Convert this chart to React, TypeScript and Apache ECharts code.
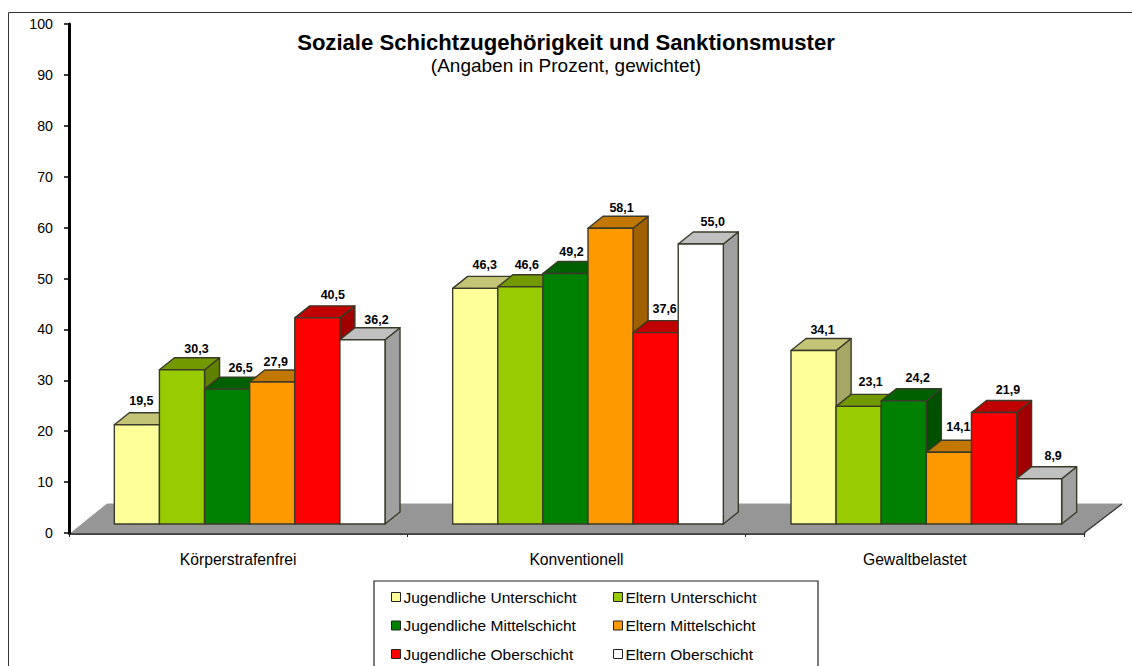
import React, { useEffect, useRef } from "react";
import * as echarts from "echarts";

const categories = ["Körperstrafenfrei", "Konventionell", "Gewaltbelastet"];
const yTicks = { min: 0, max: 100, interval: 10 };

const jugendlicheUnterschicht = [19.5, 46.3, 34.1];
const elternUnterschicht = [30.3, 46.6, 23.1];
const jugendlicheMittelschicht = [26.5, 49.2, 24.2];
const elternMittelschicht = [27.9, 58.1, 14.1];
const jugendlicheOberschicht = [40.5, 37.6, 21.9];
const elternOberschicht = [36.2, 55.0, 8.9];

const seriesNames = [
  "Jugendliche Unterschicht",
  "Eltern Unterschicht",
  "Jugendliche Mittelschicht",
  "Eltern Mittelschicht",
  "Jugendliche Oberschicht",
  "Eltern Oberschicht",
];
const seriesValues = [
  jugendlicheUnterschicht,
  elternUnterschicht,
  jugendlicheMittelschicht,
  elternMittelschicht,
  jugendlicheOberschicht,
  elternOberschicht,
];

const frontColors = ["#FFFF99", "#99CC00", "#008000", "#FF9900", "#FF0000", "#FFFFFF"];
const topColors = ["#C4C477", "#729900", "#006000", "#C17700", "#C00000", "#C0C0C0"];
const sideColors = ["#A6A665", "#5F8000", "#005000", "#A06000", "#A00000", "#A0A0A0"];

// Hand-placed value labels in the original: horizontal and vertical nudges per series and category
const labelNudgeX = [
  [4.5, 9.5, 9],
  [14.5, 6.5, 12],
  [13.5, 6, 14],
  [3.5, 11, 9.5],
  [15.5, 9, 14],
  [14, 12, 14],
];
const labelNudgeY = [
  [-24, -23, -20],
  [-21, -22, -24],
  [-21, -22, -23],
  [-20, -20, -25],
  [-23, -24, -23],
  [-20, -22, -23],
];

const FONT = '"Liberation Sans", Arial, sans-serif';
const EDGE = "#3a3a2a";
const SHIFT_X = 11.5;
const SHIFT_Y = -9;
const DEPTH_X = 15;
const DEPTH_Y = -12;
const FLOOR_X = 38;
const FLOOR_Y = -29;

function barItem(seriesIndex: number) {
  return (params: any, api: any) => {
    const cat = api.value(0);
    const val = api.value(1);
    const base = api.coord([cat, 0]);
    const top = api.coord([cat, val]);
    const band = api.size([1, 0])[0];
    const w = band / 7.5;
    const x0 = base[0] - 3 * w + seriesIndex * w + SHIFT_X;
    const x1 = x0 + w;
    const yb = base[1] + SHIFT_Y;
    const yt = top[1] + SHIFT_Y;
    const stroke = { stroke: EDGE, lineWidth: 1.4, lineJoin: "round" };
    return {
      type: "group",
      children: [
        {
          type: "polygon",
          shape: { points: [[x1, yb], [x1 + DEPTH_X, yb + DEPTH_Y], [x1 + DEPTH_X, yt + DEPTH_Y], [x1, yt]] },
          style: { fill: sideColors[seriesIndex], ...stroke },
        },
        {
          type: "polygon",
          shape: { points: [[x0, yt], [x0 + DEPTH_X, yt + DEPTH_Y], [x1 + DEPTH_X, yt + DEPTH_Y], [x1, yt]] },
          style: { fill: topColors[seriesIndex], ...stroke },
        },
        {
          type: "rect",
          shape: { x: x0, y: yt, width: w, height: yb - yt },
          style: { fill: frontColors[seriesIndex], ...stroke },
        },
      ],
    };
  };
}

function labelItem(seriesIndex: number) {
  return (params: any, api: any) => {
    const cat = api.value(0);
    const val = api.value(1);
    const top = api.coord([cat, val]);
    const band = api.size([1, 0])[0];
    const w = band / 7.5;
    const cx = top[0] - 3 * w + seriesIndex * w + SHIFT_X + w / 2;
    const cy = top[1] + SHIFT_Y;
    const i = params.dataIndex;
    return {
      type: "text",
      x: cx + labelNudgeX[seriesIndex][i],
      y: cy + labelNudgeY[seriesIndex][i],
      style: {
        text: val.toFixed(1).replace(".", ","),
        font: `bold 12.5px ${FONT}`,
        fill: "#000",
        textAlign: "center",
        textVerticalAlign: "middle",
      },
    };
  };
}

function floorItem(params: any, api: any) {
  const g = params.coordSys;
  const xl = g.x;
  const xr = g.x + g.width;
  const yb = g.y + g.height;
  return {
    type: "group",
    children: [
      {
        type: "polygon",
        shape: { points: [[xl + 2, yb], [xl + FLOOR_X, yb + FLOOR_Y], [xr + FLOOR_X, yb + FLOOR_Y], [xr, yb]] },
        style: { fill: "#969696", stroke: "#9a9a9a", lineWidth: 1 },
      },
      {
        type: "line",
        shape: { x1: xr, y1: yb, x2: xr + FLOOR_X, y2: yb + FLOOR_Y },
        style: { stroke: "#333", lineWidth: 1.2 },
      },
    ],
  };
}

export default function App() {
  const ref = useRef<HTMLDivElement>(null);
  useEffect(() => {
    const chart = echarts.init(ref.current!, undefined, { renderer: "svg" });
    const legendText = { fontFamily: FONT, fontSize: 15.5, color: "#000", padding: [0, 0, 0, -2] };
    chart.setOption({
      animation: false,
      backgroundColor: "#fff",
      grid: { left: 69, right: 48, top: 24, bottom: 133, containLabel: false },
      xAxis: {
        type: "category",
        data: categories,
        boundaryGap: true,
        axisLine: { lineStyle: { color: "#000", width: 2.5 } },
        axisTick: { show: true, alignWithLabel: false, length: 4, lineStyle: { color: "#222", width: 1 } },
        axisLabel: { fontFamily: FONT, fontSize: 15.7, color: "#000", margin: 18 },
        splitLine: { show: false },
      },
      yAxis: {
        type: "value",
        min: yTicks.min,
        max: yTicks.max,
        interval: yTicks.interval,
        axisLine: { show: true, lineStyle: { color: "#000", width: 3 } },
        axisTick: { show: true, length: 5, lineStyle: { color: "#000", width: 1.5 } },
        axisLabel: { fontFamily: FONT, fontSize: 14.2, color: "#000", margin: 16 },
        splitLine: { show: false },
      },
      legend: [
        {
          orient: "vertical",
          left: 391,
          top: 589,
          itemWidth: 9,
          itemHeight: 9,
          itemGap: 12.5,
          icon: "rect",
          selectedMode: false,
          data: [seriesNames[0], seriesNames[2], seriesNames[4]],
          textStyle: legendText,
          itemStyle: { borderColor: "#222", borderWidth: 1 },
          padding: 0,
        },
        {
          orient: "vertical",
          left: 613,
          top: 589,
          itemWidth: 9,
          itemHeight: 9,
          itemGap: 12.5,
          icon: "rect",
          selectedMode: false,
          data: [seriesNames[1], seriesNames[3], seriesNames[5]],
          textStyle: legendText,
          itemStyle: { borderColor: "#222", borderWidth: 1 },
          padding: 0,
        },
      ],
      graphic: [
        {
          type: "rect",
          z: -10,
          shape: { x: 8.5, y: 12.5, width: 1200, height: 700 },
          style: { fill: "#fff", stroke: "#333", lineWidth: 1 },
        },
        {
          type: "rect",
          z: -5,
          shape: { x: 374, y: 581, width: 444, height: 120 },
          style: { fill: "#fff", stroke: "#222", lineWidth: 1.2 },
        },
        {
          type: "text",
          x: 566,
          y: 42,
          style: {
            text: "Soziale Schichtzugehörigkeit und Sanktionsmuster",
            font: `bold 22.1px ${FONT}`,
            fill: "#000",
            textAlign: "center",
            textVerticalAlign: "middle",
          },
        },
        {
          type: "text",
          x: 566,
          y: 65,
          style: {
            text: "(Angaben in Prozent, gewichtet)",
            font: `19px ${FONT}`,
            fill: "#000",
            textAlign: "center",
            textVerticalAlign: "middle",
          },
        },
      ],
      series: [
        {
          type: "custom",
          name: "floor",
          coordinateSystem: "cartesian2d",
          renderItem: floorItem,
          data: [[0, 0]],
          z: 1,
          silent: true,
        },
        ...seriesNames.map((name, s) => ({
          type: "custom",
          name,
          coordinateSystem: "cartesian2d",
          renderItem: barItem(s),
          encode: { x: 0, y: 1 },
          data: seriesValues[s].map((v, c) => [c, v]),
          itemStyle: { color: frontColors[s] },
          z: 2,
        })),
        ...seriesNames.map((name, s) => ({
          type: "custom",
          name: name + " Wert",
          coordinateSystem: "cartesian2d",
          renderItem: labelItem(s),
          encode: { x: 0, y: 1 },
          data: seriesValues[s].map((v, c) => [c, v]),
          z: 3,
        })),
      ],
    });
    return () => chart.dispose();
  }, []);
  return (
    <div
      ref={ref}
      style={{ position: "absolute", left: 0, top: 0, width: 1132, height: 666, overflow: "hidden" }}
    />
  );
}
